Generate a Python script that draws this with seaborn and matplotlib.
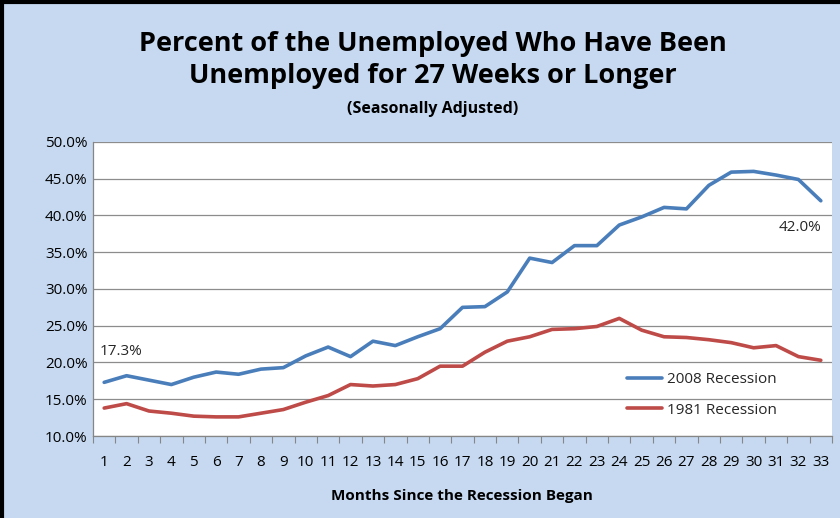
import numpy as np
import pandas as pd
import matplotlib
matplotlib.use("Agg")
import matplotlib.pyplot as plt
from matplotlib.lines import Line2D
from matplotlib.ticker import FixedLocator, FuncFormatter
import seaborn as sns

months = list(range(1, 34))
rec_2008 = [17.3, 18.2, 17.6, 17.0, 18.0, 18.7, 18.4, 19.1, 19.3, 20.9, 22.1, 20.8,
            22.9, 22.3, 23.5, 24.6, 27.5, 27.6, 29.6, 34.2, 33.6, 35.9, 35.9, 38.7,
            39.8, 41.1, 40.9, 44.1, 45.9, 46.0, 45.5, 44.9, 42.0]
rec_1981 = [13.8, 14.4, 13.4, 13.1, 12.7, 12.6, 12.6, 13.1, 13.6, 14.6, 15.5, 17.0,
            16.8, 17.0, 17.8, 19.5, 19.5, 21.4, 22.9, 23.5, 24.5, 24.6, 24.9, 26.0,
            24.4, 23.5, 23.4, 23.1, 22.7, 22.0, 22.3, 20.8, 20.3]
series_names = ["2008 Recession", "1981 Recession"]
y_ticks = [10, 15, 20, 25, 30, 35, 40, 45, 50]
title = "Percent of the Unemployed Who Have Been\nUnemployed for 27 Weeks or Longer"
subtitle = "(Seasonally Adjusted)"
xlabel = "Months Since the Recession Began"

df = pd.DataFrame({
    "Month": months * 2,
    "Value": rec_2008 + rec_1981,
    "Series": [series_names[0]] * len(months) + [series_names[1]] * len(months),
})

sns.set_theme(style="white")
plt.rcParams["font.family"] = ["Liberation Sans Narrow", "Open Sans", "DejaVu Sans"]

bg = "#C6D9F1"
fig = plt.figure(figsize=(8.4, 5.18), dpi=100, facecolor=bg)
ax = fig.add_axes([0.1107, 0.1583, 0.8798, 0.5676])
ax.set_facecolor("white")

palette = {series_names[0]: "#4A7EBB", series_names[1]: "#BE4B48"}
sns.lineplot(data=df, x="Month", y="Value", hue="Series", palette=palette,
             linewidth=2.6, ax=ax, legend=False, hue_order=series_names)

ax.set_xlim(0.5, 33.5)
ax.set_ylim(10, 50)
ax.yaxis.set_major_locator(FixedLocator(y_ticks))
ax.yaxis.set_major_formatter(FuncFormatter(lambda v, p: f"{v:.1f}%"))
ax.xaxis.set_major_locator(FixedLocator(months))
ax.set_xticklabels([str(m) for m in months])
ax.xaxis.set_minor_locator(FixedLocator(np.arange(0.5, 34, 1)))
ax.tick_params(axis="x", which="major", length=0, pad=14, labelsize=11, colors="black")
ax.tick_params(axis="x", which="minor", length=5, width=0.8, color="#868686", direction="out", bottom=True)
ax.tick_params(axis="y", length=0, pad=4, labelsize=11, colors="black")
ax.grid(axis="y", color="#8C8C8C", linewidth=0.9)
ax.set_axisbelow(True)
for s in ["top", "right"]:
    ax.spines[s].set_visible(False)
for s in ["left", "bottom"]:
    ax.spines[s].set_color("#868686")
    ax.spines[s].set_linewidth(0.9)
ax.set_xlabel("")
ax.set_ylabel("")

# data labels
ax.annotate(f"{rec_2008[0]:.1f}%", xy=(months[0], rec_2008[0]), xytext=(12, 22),
            textcoords="offset points", fontsize=11, color="#262626", ha="center", va="center",
            family=["Open Sans", "DejaVu Sans"])
ax.annotate(f"{rec_2008[-1]:.1f}%", xy=(months[-1], rec_2008[-1]), xytext=(-15, -19),
            textcoords="offset points", fontsize=11, color="#262626", ha="center", va="center",
            family=["Open Sans", "DejaVu Sans"])

handles = [Line2D([], [], color=palette[n], linewidth=2.6) for n in series_names]
ax.legend(handles, series_names, loc="center left", bbox_to_anchor=(0.7226, 0.139),
          frameon=False, borderaxespad=0, borderpad=0, handlelength=2.3, handletextpad=0.35,
          labelspacing=1.0, prop={"family": ["Open Sans", "DejaVu Sans"], "size": 11},
          labelcolor="#262626")

fig.text(0.515, 0.885, title, ha="center", va="center", fontsize=19.5, fontweight="bold",
         linespacing=1.3, color="black", family=["Open Sans", "DejaVu Sans"])
fig.text(0.515, 0.789, subtitle, ha="center", va="center", fontsize=11.5, fontweight="bold",
         color="black", family=["Open Sans", "DejaVu Sans"])
fig.text(0.55, 0.042, xlabel, ha="center", va="center", fontsize=11, fontweight="bold",
         color="black", family=["Open Sans", "DejaVu Sans"])

# outer border (left and top)
fig.add_artist(Line2D([0.002, 0.002], [0, 1], transform=fig.transFigure, color="black", linewidth=3))
fig.add_artist(Line2D([0, 1], [0.997, 0.997], transform=fig.transFigure, color="black", linewidth=3))

fig.savefig("out.png", dpi=100, facecolor=bg)
